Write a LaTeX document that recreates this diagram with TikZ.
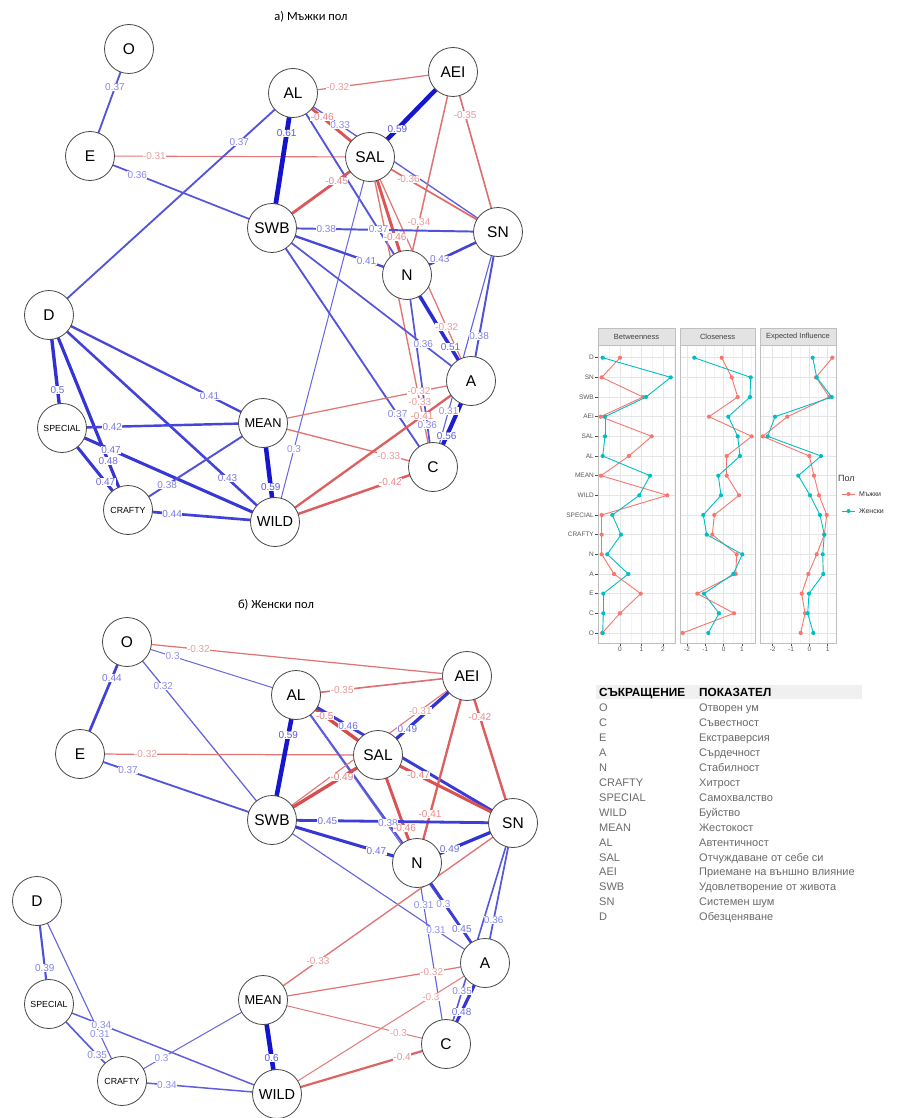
\documentclass[tikz,border=0pt]{standalone}
\usepackage{fontspec}
\setmainfont{Liberation Sans}
\newfontfamily\titlefont{Carlito}
\usetikzlibrary{calc}
\definecolor{posc}{RGB}{20,20,205}
\definecolor{negc}{RGB}{212,50,50}
\definecolor{ggred}{HTML}{F8766D}
\definecolor{ggteal}{HTML}{00BFC4}
\definecolor{tabtxt}{HTML}{6A6A6A}
\pgfdeclarelayer{bgfill}\pgfdeclarelayer{edges}\pgfdeclarelayer{labels}
\pgfsetlayers{bgfill,edges,labels,main}
\newcommand{\cedge}[4]{%
  \pgfmathsetmacro{\ew}{abs(#3)}%
  \pgfmathsetmacro{\lw}{1.0+(\ew-0.3)*12}%
  \pgfmathtruncatemacro{\ci}{min(100,65+(\ew-0.3)*120)}%
  \pgfmathtruncatemacro{\cl}{\ci*0.72}%
  \pgfmathtruncatemacro{\isneg}{(#3<0)}%
  \ifnum\isneg=1 \colorlet{ec}{negc!\ci!white}\colorlet{lc}{negc!\cl!white}%
  \else \colorlet{ec}{posc!\ci!white}\colorlet{lc}{posc!\cl!white}\fi
  \begin{pgfonlayer}{edges}\draw[line width=\lw pt, ec] (#1.center) -- (#2.center);\end{pgfonlayer}%
  \begin{pgfonlayer}{labels}\path (#1.center) -- node[elab, text=lc, pos=#4] {#3} (#2.center);\end{pgfonlayer}%
}
\newcommand{\chpanel}[5]{%
  \foreach \xm in {#4} \draw[gray!9, line width=0.4] (\xm,345) -- (\xm,643);
  \foreach \xx/\tl in {#3} {\draw[gray!20, line width=0.6] (\xx,345) -- (\xx,643);
     \draw[gray!60!black, line width=0.5] (\xx,643) -- (\xx,646);
     \node[axlab, anchor=north] at (\xx,646) {\tl};}
  \foreach \k in {0,...,14} \draw[gray!20, line width=0.6] (#1,{357.7+19.66*\k}) -- (#2,{357.7+19.66*\k});
  \draw[gray!50, line width=0.6] (#1,345) rectangle (#2,643);
  \draw[gray!50, fill=gray!22, line width=0.6] (#1,328) rectangle (#2,345);
  \node[font=\fontsize{7.5}{7.5}\selectfont, text=black!75] at ({(#1+#2)/2},336.5) {#5};
}
\newcommand{\series}[2]{%
  \foreach \xv [count=\k from 0, remember=\xv as \xp] in {#2} {%
    \ifnum\k>0 \draw[#1, line width=0.9pt] (\xp,{357.7+19.66*(\k-1)}) -- (\xv,{357.7+19.66*\k}); \fi}
  \foreach \xv [count=\k from 0] in {#2} {\fill[#1] (\xv,{357.7+19.66*\k}) circle[radius=2.1pt];}
}
\tikzset{
  nd/.style={circle, draw=black!72, line width=0.8pt, fill=white, minimum size=49pt, inner sep=0pt, font=\fontsize{15.5}{15.5}\selectfont},
  sm/.style={font=\fontsize{8.8}{8.8}\selectfont},
  md/.style={font=\fontsize{12.8}{12.8}\selectfont},
  elab/.style={font=\fontsize{10}{10}\selectfont, fill=white, inner sep=0.4pt},
  axlab/.style={font=\fontsize{6.5}{6.5}\selectfont, text=black!65, inner sep=1pt},
  tab/.style={font=\fontsize{11}{11}\selectfont, text=tabtxt, anchor=base west, inner sep=0pt},
  tabh/.style={font=\fontsize{11.8}{11.8}\selectfont\bfseries, text=black, anchor=base west, inner sep=0pt}
}
\begin{document}
\begin{tikzpicture}[x=1pt,y=-1pt]
\useasboundingbox (0,0) rectangle (904,1118);
\begin{pgfonlayer}{bgfill}\fill[white] (0,0) rectangle (904,1118);\end{pgfonlayer}
% titles
\node[font=\titlefont\fontsize{12.5}{12.5}\selectfont] (t1) at (311,17) {а) Мъжки пол};
\node[font=\titlefont\fontsize{12.5}{12.5}\selectfont] (t2) at (276,605) {б) Женски пол};
% ---------- male network ----------
\node[nd] (mO) at (129,49) {O};
\node[nd] (mE) at (90,156) {E};
\node[nd] (mAL) at (293,93) {AL};
\node[nd] (mAEI) at (453,72) {AEI};
\node[nd] (mSAL) at (370,157) {SAL};
\node[nd] (mSWB) at (272,228) {SWB};
\node[nd] (mSN) at (498,232) {SN};
\node[nd] (mN) at (407,275) {N};
\node[nd] (mD) at (49,315) {D};
\node[nd] (mA) at (471,381) {A};
\node[nd,md] (mMEAN) at (263,423) {MEAN};
\node[nd,sm] (mSPECIAL) at (62,428) {SPECIAL};
\node[nd] (mC) at (433,467) {C};
\node[nd,sm] (mCRAFTY) at (128,510) {CRAFTY};
\node[nd,font=\fontsize{14.5}{14.5}\selectfont] (mWILD) at (275,522) {WILD};
\cedge{mO}{mE}{0.37}{0.36}
\cedge{mE}{mSAL}{-0.31}{0.23}
\cedge{mE}{mSWB}{0.36}{0.26}
\cedge{mD}{mAL}{0.37}{0.78}
\cedge{mAL}{mAEI}{-0.32}{0.28}
\cedge{mAL}{mSWB}{0.61}{0.3}
\cedge{mAL}{mSAL}{-0.46}{0.38}
\cedge{mAL}{mSN}{0.33}{0.23}
\cedge{mAL}{mN}{0.37}{0.75}
\cedge{mAEI}{mSAL}{0.59}{0.67}
\cedge{mAEI}{mSN}{-0.35}{0.27}
\cedge{mAEI}{mN}{-0.34}{0.74}
\cedge{mSAL}{mSWB}{-0.45}{0.34}
\cedge{mSAL}{mSN}{-0.36}{0.3}
\cedge{mSAL}{mN}{-0.46}{0.68}
\cedge{mSAL}{mA}{-0.32}{0.76}
\cedge{mSAL}{mC}{-0.33}{0.79}
\cedge{mSAL}{mWILD}{0.3}{0.8}
\cedge{mSWB}{mSN}{0.38}{0.24}
\cedge{mSWB}{mN}{0.41}{0.7}
\cedge{mSWB}{mA}{0.36}{0.76}
\cedge{mSWB}{mC}{0.37}{0.78}
\cedge{mN}{mSN}{0.43}{0.36}
\cedge{mN}{mA}{0.51}{0.68}
\cedge{mN}{mC}{0.36}{0.78}
\cedge{mSN}{mA}{0.38}{0.7}
\cedge{mSN}{mC}{0.31}{0.76}
\cedge{mA}{mC}{0.56}{0.64}
\cedge{mD}{mSPECIAL}{0.5}{0.66}
\cedge{mD}{mCRAFTY}{0.48}{0.75}
\cedge{mD}{mMEAN}{0.41}{0.75}
\cedge{mD}{mWILD}{0.43}{0.79}
\cedge{mSPECIAL}{mMEAN}{0.42}{0.25}
\cedge{mSPECIAL}{mWILD}{0.47}{0.23}
\cedge{mSPECIAL}{mCRAFTY}{0.47}{0.66}
\cedge{mCRAFTY}{mMEAN}{0.38}{0.29}
\cedge{mCRAFTY}{mWILD}{0.44}{0.3}
\cedge{mMEAN}{mWILD}{0.59}{0.65}
\cedge{mMEAN}{mA}{-0.32}{0.75}
\cedge{mMEAN}{mC}{-0.33}{0.74}
\cedge{mWILD}{mA}{-0.41}{0.75}
\cedge{mWILD}{mC}{-0.42}{0.73}
% ---------- female network ----------
\node[nd] (fO) at (127,642) {O};
\node[nd] (fE) at (80,754) {E};
\node[nd] (fAL) at (296,695) {AL};
\node[nd] (fAEI) at (467,676) {AEI};
\node[nd] (fSAL) at (378,755) {SAL};
\node[nd] (fSWB) at (272,820) {SWB};
\node[nd] (fSN) at (513,823) {SN};
\node[nd] (fN) at (417,863) {N};
\node[nd] (fD) at (37,901) {D};
\node[nd] (fA) at (485,963) {A};
\node[nd,md] (fMEAN) at (263,1000) {MEAN};
\node[nd,sm] (fSPECIAL) at (49,1004) {SPECIAL};
\node[nd] (fC) at (446,1044) {C};
\node[nd,sm] (fCRAFTY) at (122,1081) {CRAFTY};
\node[nd,font=\fontsize{14.5}{14.5}\selectfont] (fWILD) at (277,1094) {WILD};
\cedge{fO}{fE}{0.44}{0.32}
\cedge{fO}{fAEI}{-0.32}{0.21}
\cedge{fO}{fAL}{0.3}{0.27}
\cedge{fO}{fSWB}{0.32}{0.25}
\cedge{fE}{fSAL}{-0.32}{0.22}
\cedge{fE}{fSWB}{0.37}{0.25}
\cedge{fAL}{fAEI}{-0.35}{0.27}
\cedge{fAL}{fSAL}{-0.5}{0.35}
\cedge{fAL}{fSN}{0.46}{0.24}
\cedge{fAL}{fSWB}{0.59}{0.32}
\cedge{fAL}{fN}{0.38}{0.76}
\cedge{fAL}{fA}{0.3}{0.78}
\cedge{fAEI}{fSWB}{-0.31}{0.24}
\cedge{fAEI}{fSAL}{0.49}{0.67}
\cedge{fAEI}{fSN}{-0.42}{0.28}
\cedge{fAEI}{fN}{-0.41}{0.74}
\cedge{fSAL}{fSWB}{-0.49}{0.34}
\cedge{fSAL}{fSN}{-0.47}{0.3}
\cedge{fSAL}{fN}{-0.46}{0.68}
\cedge{fSWB}{fSN}{0.45}{0.23}
\cedge{fSWB}{fN}{0.47}{0.72}
\cedge{fSWB}{fA}{0.31}{0.77}
\cedge{fN}{fSN}{0.49}{0.34}
\cedge{fN}{fA}{0.45}{0.66}
\cedge{fN}{fC}{0.31}{0.23}
\cedge{fSN}{fA}{0.36}{0.69}
\cedge{fSN}{fC}{0.35}{0.76}
\cedge{fA}{fC}{0.48}{0.6}
\cedge{fMEAN}{fSN}{-0.33}{0.22}
\cedge{fMEAN}{fA}{-0.32}{0.76}
\cedge{fMEAN}{fC}{-0.3}{0.74}
\cedge{fWILD}{fA}{-0.3}{0.74}
\cedge{fWILD}{fC}{-0.4}{0.74}
\cedge{fMEAN}{fWILD}{0.6}{0.62}
\cedge{fD}{fSPECIAL}{0.39}{0.65}
\cedge{fD}{fCRAFTY}{0.31}{0.74}
\cedge{fSPECIAL}{fWILD}{0.34}{0.23}
\cedge{fSPECIAL}{fCRAFTY}{0.35}{0.66}
\cedge{fCRAFTY}{fMEAN}{0.3}{0.28}
\cedge{fCRAFTY}{fWILD}{0.34}{0.29}
% ---------- centrality chart ----------
\chpanel{598}{675}{620/0,641.5/1,663/2}{609.25,630.75,652.25,673.75}{Betweenness}
\chpanel{680}{755}{687/-2,705.3/-1,723.6/0,741.9/1}{696.2,714.5,732.8,751.1}{Closeness}
\chpanel{760}{836}{772.7/-2,791/-1,809.3/0,827.7/1}{763.5,781.8,800.2,818.5}{Expected Influence}
\foreach \lab [count=\k from 0] in {D,SN,SWB,AEI,SAL,AL,MEAN,WILD,SPECIAL,CRAFTY,N,A,E,C,O} {
  \node[axlab, anchor=east] (yl\k) at (595,{357.7+19.66*\k}) {\lab};
  \draw[gray!60!black, line width=0.5] (595,{357.7+19.66*\k}) -- (598,{357.7+19.66*\k});
}
\series{ggred}{620,601.7,643,600.7,651.7,629,601,667.3,601.7,601.7,601.7,614,640.7,620,602.3}
\series{ggteal}{602.7,670.7,646,605,605,602.7,650,639.3,612.3,621,607.3,628.3,603.3,603.3,602.7}
\series{ggred}{721.7,731.7,737.7,709,751.7,726.7,726.7,739,714.3,712.3,736.7,735.7,697.3,734,682.7}
\series{ggteal}{694.3,750.7,750,728.3,737.7,740,718.3,721,703.3,706.7,742.3,733.3,704,719,708.3}
\series{ggred}{832.3,816,829.3,787.3,762.7,809.3,814,819,826.7,824.3,816.7,808.3,801.7,805,800.7}
\series{ggteal}{812.7,816.7,831.7,775,767.7,821,798.3,810,820,824.3,822.7,823.3,809,807.7,813.3}
% legend
\node[anchor=west, font=\fontsize{9}{9}\selectfont, text=black!80, inner sep=0pt] (lgt) at (838,478) {Пол};
\draw[ggred, line width=0.9pt] (842,494) -- (855,494);
\fill[ggred] (848.5,494) circle[radius=2pt];
\node[anchor=west, font=\fontsize{7}{7}\selectfont, text=black!80, inner sep=0pt] (lg1) at (859,494) {Мъжки};
\draw[ggteal, line width=0.9pt] (842,511) -- (855,511);
\fill[ggteal] (848.5,511) circle[radius=2pt];
\node[anchor=west, font=\fontsize{7}{7}\selectfont, text=black!80, inner sep=0pt] (lg2) at (859,511) {Женски};
% ---------- table ----------
\fill[gray!12] (596,685) rectangle (862,699);
\node[tabh] (th1) at (599,696) {СЪКРАЩЕНИЕ};
\node[tabh] (th2) at (699,696) {ПОКАЗАТЕЛ};
\foreach \ab/\nm [count=\k from 0] in {O/Отворен ум, C/Съвестност, E/Екстраверсия, A/Сърдечност, N/Стабилност, CRAFTY/Хитрост, SPECIAL/Самохвалство, WILD/Буйство, MEAN/Жестокост, AL/Автентичност, SAL/Отчуждаване от себе си, AEI/Приемане на външно влияние, SWB/Удовлетворение от живота, SN/Системен шум, D/Обезценяване} {
  \node[tab] (ta\k) at (599,{711.5+14.95*\k}) {\ab};
  \node[tab] (tb\k) at (699,{711.5+14.95*\k}) {\nm};
}
\end{tikzpicture}
\end{document}
